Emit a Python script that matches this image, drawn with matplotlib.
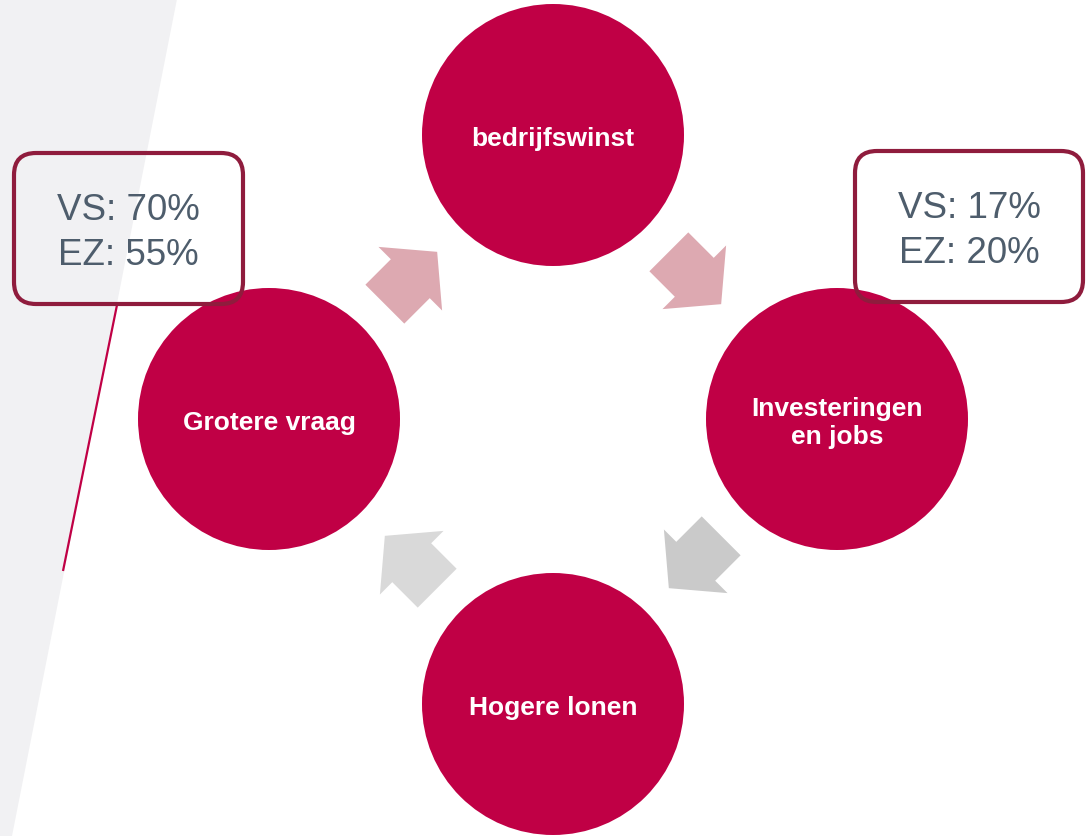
import numpy as np
import matplotlib
matplotlib.use("Agg")
import matplotlib.pyplot as plt
from matplotlib.patches import Circle, Polygon, FancyBboxPatch

# ---- data ----
circle_labels = ["bedrijfswinst", "Investeringen\nen jobs", "Hogere lonen", "Grotere vraag"]
box_regions = ["VS", "EZ"]
box_left_values = [70, 55]
box_right_values = [17, 20]

# ---- style / layout ----
W, H = 1092, 837
crimson = "#C00045"
box_edge = "#8F1C3D"
text_gray = "#4E5D6C"
bg_gray = "#F1F1F3"

fig = plt.figure(figsize=(W / 100, H / 100), dpi=100)
ax = fig.add_axes([0, 0, 1, 1])
ax.set_xlim(0, W)
ax.set_ylim(H, 0)
ax.set_aspect("equal")
ax.axis("off")

# background slanted band
ax.add_patch(Polygon([(0, 0), (177, 0), (12, H), (0, H)], closed=True,
                     facecolor=bg_gray, edgecolor="none", zorder=0))
# thin crimson line
ax.plot([117, 63], [306, 572], color=crimson, lw=1.6, zorder=1, solid_capstyle="butt")

# circles
cx, cy, off, r = 553, 421, 284, 131
centers = [(cx, cy - off - 1), (cx + off, cy - 1), (cx, cy + off), (cx - off, cy - 1)]
for (x, y), lab in zip(centers, circle_labels):
    ax.add_patch(Circle((x, y), r, facecolor=crimson, edgecolor="none", zorder=2))
    lines = lab.split("\n")
    n = len(lines)
    for i, ln in enumerate(lines):
        yy = y + 3 + (i - (n - 1) / 2) * 28
        ax.text(x, yy, ln, color="white", fontsize=19, fontweight="bold",
                family="Liberation Sans", ha="center", va="center", zorder=3)

# arrows
def arrow_poly(center, direction, L=74, w=55, Hh=90, h=38):
    d = np.array(direction, float)
    d /= np.linalg.norm(d)
    n = np.array([-d[1], d[0]])
    local = [(-L / 2, -w / 2), (L / 2 - h, -w / 2), (L / 2 - h, -Hh / 2), (L / 2, 0),
             (L / 2 - h, Hh / 2), (L / 2 - h, w / 2), (-L / 2, w / 2)]
    c = np.array(center, float)
    return [tuple(c + u * d + v * n) for u, v in local]

ao = 142
arrows = [
    ((cx - ao, cy - ao), (1, -1), "#DDA9B1"),
    ((cx + ao, cy - ao), (1, 1), "#DDA9B1"),
    ((cx + ao, cy + ao), (-1, 1), "#CACACA"),
    ((cx - ao, cy + ao), (-1, -1), "#D9D9D9"),
]
for c, d, col in arrows:
    ax.add_patch(Polygon(arrow_poly(c, d), closed=True, facecolor=col,
                         edgecolor="none", zorder=2))

# value boxes
boxes = [((14, 154, 229, 151), box_left_values), ((855, 152, 228, 151), box_right_values)]
for (x0, y0, bw, bh), vals in boxes:
    ax.add_patch(FancyBboxPatch((x0, y0), bw, bh,
                                boxstyle="round,pad=0,rounding_size=22",
                                facecolor="none", edgecolor=box_edge, lw=3, zorder=4))
    xc = x0 + bw / 2
    for i, (reg, v) in enumerate(zip(box_regions, vals)):
        ax.text(xc, y0 + 56 + i * 45, f"{reg}: {v}%", color=text_gray, fontsize=26.5,
                family="Liberation Sans", ha="center", va="center", zorder=5)

fig.savefig("out.png", dpi=100)
